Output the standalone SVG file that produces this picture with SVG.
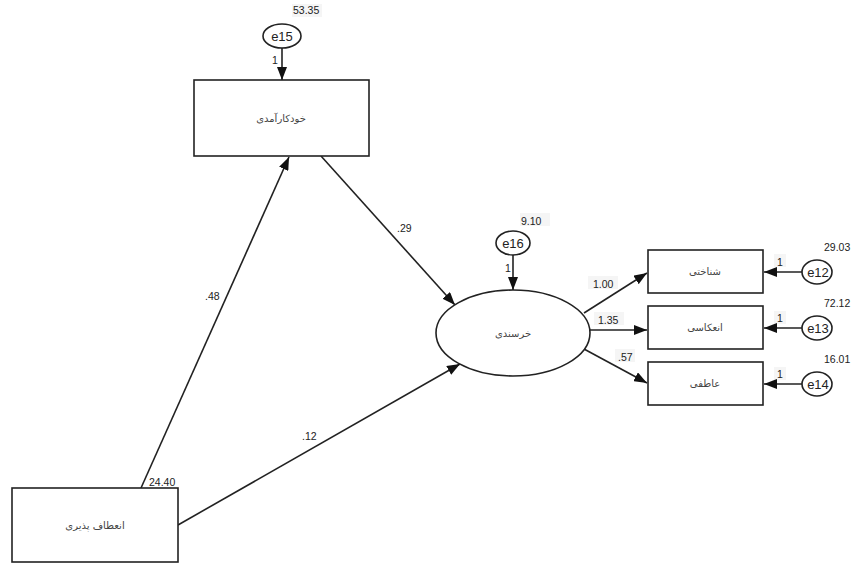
<svg xmlns="http://www.w3.org/2000/svg" width="851" height="563" viewBox="0 0 851 563">
<style>
.box{fill:#fff;stroke:#222;stroke-width:1.6}
.lat{fill:#fff;stroke:#222;stroke-width:1.6}
.fa{font-family:"DejaVu Sans","Noto Sans",sans-serif;font-size:10px;fill:#444;text-anchor:middle}
.num{font-family:"Liberation Sans",Arial,sans-serif;font-size:10.5px;fill:#222}
.en{font-family:"Liberation Sans",Arial,sans-serif;font-size:13px;fill:#222;text-anchor:middle}
.ln{stroke:#222;stroke-width:1.6;fill:none;marker-end:url(#ah)}
.bg{fill:#eeeeee}
</style>
<defs>
<marker id="ah" markerUnits="userSpaceOnUse" markerWidth="14" markerHeight="10" refX="13" refY="5" orient="auto">
<path d="M0,0 L13,5 L0,10 Z" fill="#111"/>
</marker>
</defs>
<rect width="851" height="563" fill="#fff"/>
<g id="bgs">
<rect class="bg" x="292" y="4" width="30" height="13" opacity="0.6"/>
<rect class="bg" x="520" y="213" width="30" height="13" opacity="0.6"/>
<rect class="bg" x="588" y="276" width="30" height="13" opacity="0.6"/>
<rect class="bg" x="594" y="312" width="30" height="13" opacity="0.6"/>
<rect class="bg" x="615" y="349" width="20" height="13" opacity="0.6"/>
<rect class="bg" x="774" y="254" width="12" height="13" opacity="0.6"/>
<rect class="bg" x="774" y="311" width="12" height="13" opacity="0.6"/>
<rect class="bg" x="774" y="367" width="12" height="13" opacity="0.6"/>
</g>
<g id="connectors">
<line class="ln" x1="282" y1="48" x2="282" y2="80"/>
<line class="ln" x1="513" y1="255" x2="513" y2="290"/>
<line class="ln" x1="141" y1="488" x2="289" y2="157"/>
<line class="ln" x1="178" y1="525" x2="460" y2="364"/>
<line class="ln" x1="321" y1="156" x2="455" y2="305"/>
<line class="ln" x1="584" y1="313" x2="647" y2="273"/>
<line class="ln" x1="590" y1="330" x2="647" y2="330"/>
<line class="ln" x1="584" y1="349" x2="647" y2="383"/>
<line class="ln" x1="802" y1="272" x2="764" y2="272"/>
<line class="ln" x1="802" y1="328" x2="764" y2="328"/>
<line class="ln" x1="802" y1="384" x2="764" y2="384"/>
</g>
<g id="e15">
<ellipse class="lat" cx="282" cy="36" rx="19" ry="12"/>
<text class="en" x="282" y="41">e15</text>
<text class="num" x="293" y="14">53.35</text>
<text class="num" x="272" y="64">1</text>
</g>
<g id="khodkaramadi">
<rect class="box" x="194" y="80" width="175" height="76"/>
<text class="fa" x="281" y="122">خودکارآمدی</text>
</g>
<g id="e16">
<ellipse class="lat" cx="513" cy="243" rx="17" ry="12"/>
<text class="en" x="513" y="248">e16</text>
<text class="num" x="521" y="225">9.10</text>
<text class="num" x="505" y="272">1</text>
</g>
<g id="khorsandi">
<ellipse class="lat" cx="513" cy="333" rx="77" ry="43"/>
<text class="fa" x="513" y="337">خرسندی</text>
</g>
<g id="shenakhti">
<rect class="box" x="648" y="250" width="115" height="43"/>
<text class="fa" x="705" y="275">شناختی</text>
</g>
<g id="enekasi">
<rect class="box" x="648" y="306" width="115" height="43"/>
<text class="fa" x="705" y="331">انعکاسی</text>
</g>
<g id="atefi">
<rect class="box" x="648" y="362" width="115" height="43"/>
<text class="fa" x="705" y="387">عاطفی</text>
</g>
<g id="e12">
<ellipse class="lat" cx="817" cy="272" rx="15" ry="12"/>
<text class="en" x="818" y="277">e12</text>
<text class="num" x="824" y="251">29.03</text>
<text class="num" x="777" y="266">1</text>
</g>
<g id="e13">
<ellipse class="lat" cx="817" cy="328" rx="15" ry="12"/>
<text class="en" x="818" y="333">e13</text>
<text class="num" x="824" y="307">72.12</text>
<text class="num" x="777" y="322">1</text>
</g>
<g id="e14">
<ellipse class="lat" cx="817" cy="384" rx="15" ry="12"/>
<text class="en" x="818" y="389">e14</text>
<text class="num" x="824" y="363">16.01</text>
<text class="num" x="777" y="378">1</text>
</g>
<g id="enetaf">
<rect class="box" x="12" y="488" width="166" height="74"/>
<text class="fa" x="95" y="529">انعطاف پذیری</text>
<text class="num" x="149" y="486">24.40</text>
</g>
<g id="labels">
<text class="num" x="205" y="300">.48</text>
<text class="num" x="302" y="440">.12</text>
<text class="num" x="397" y="232">.29</text>
<text class="num" x="593" y="288">1.00</text>
<text class="num" x="598" y="324">1.35</text>
<text class="num" x="618" y="361">.57</text>
</g>
</svg>
